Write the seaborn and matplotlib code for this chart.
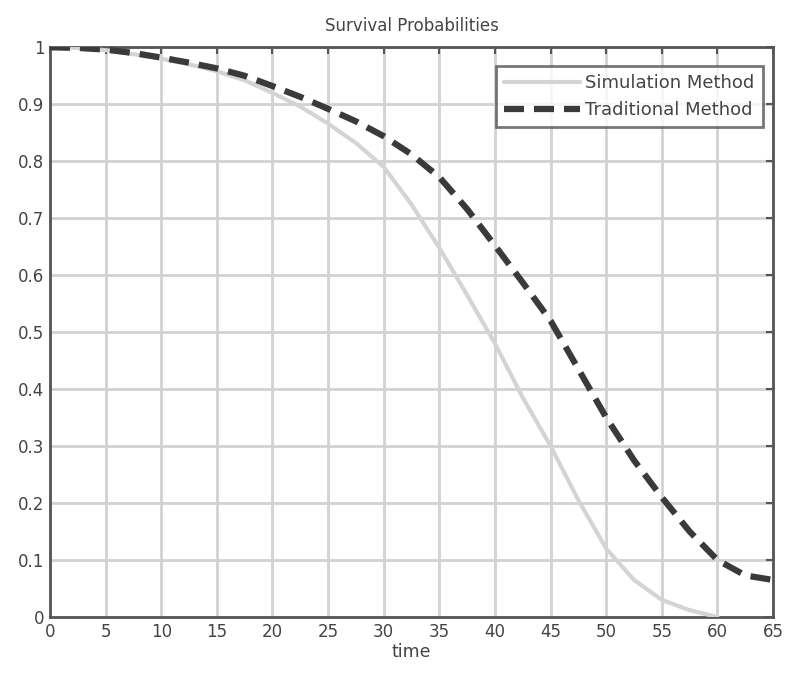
import numpy as np
import pandas as pd
import matplotlib
matplotlib.use("Agg")
import matplotlib.pyplot as plt
import seaborn as sns

time_sim = [0, 2.5, 5, 7.5, 10, 12.5, 15, 17.5, 20, 22.5, 25, 27.5, 30, 32.5,
            35, 37.5, 40, 42.5, 45, 47.5, 50, 52.5, 55, 57.5, 60]
sim_vals = [1.0, 0.999, 0.995, 0.988, 0.98, 0.97, 0.958, 0.942, 0.92, 0.896,
            0.866, 0.832, 0.79, 0.724, 0.648, 0.565, 0.48, 0.385, 0.30, 0.205,
            0.12, 0.065, 0.03, 0.012, 0.0]

time_trad = [0, 2.5, 5, 7.5, 10, 12.5, 15, 17.5, 20, 22.5, 25, 27.5, 30, 32.5,
             35, 37.5, 40, 42.5, 45, 47.5, 50, 52.5, 55, 57.5, 60, 62.5, 65]
trad_vals = [1.0, 0.999, 0.996, 0.99, 0.982, 0.973, 0.963, 0.95, 0.932, 0.913,
             0.892, 0.87, 0.844, 0.812, 0.772, 0.716, 0.652, 0.587, 0.52, 0.435,
             0.35, 0.275, 0.21, 0.15, 0.10, 0.073, 0.065]

labels = ["Simulation Method", "Traditional Method"]
xticks = list(range(0, 70, 5))
yticks = [0, 0.1, 0.2, 0.3, 0.4, 0.5, 0.6, 0.7, 0.8, 0.9, 1]
yticklabels = ["0", "0.1", "0.2", "0.3", "0.4", "0.5", "0.6", "0.7", "0.8", "0.9", "1"]

df_sim = pd.DataFrame({"time": time_sim, "p": sim_vals})
df_trad = pd.DataFrame({"time": time_trad, "p": trad_vals})

sns.set_style("white")
plt.rcParams["font.family"] = ["DejaVu Sans"]

fig = plt.figure(figsize=(7.86, 6.75), dpi=100)
ax = fig.add_axes([0.0636, 0.0859, 0.920, 0.844])

sns.lineplot(data=df_sim, x="time", y="p", ax=ax, color="#d4d4d4",
             linewidth=3, label=labels[0], zorder=3)
sns.lineplot(data=df_trad, x="time", y="p", ax=ax, color="#3a3a3a",
             linewidth=4.5, label=labels[1], zorder=4)
ax.lines[1].set_dashes([3.2, 1.6])

ax.set_xlim(0, 65)
ax.set_ylim(0, 1)
ax.set_xticks(xticks)
ax.set_yticks(yticks)
ax.set_yticklabels(yticklabels)
ax.grid(True, color="#d2d2d2", linewidth=2, linestyle="-")
ax.set_axisbelow(True)
for s in ax.spines.values():
    s.set_visible(True)
    s.set_color("#555555")
    s.set_linewidth(2)
ax.tick_params(direction="in", length=5, width=1.5, color="#555555",
               labelsize=12, labelcolor="#444444", top=True, right=True,
               labeltop=False, labelright=False, pad=4)

ax.set_title("Survival Probabilities", fontsize=12, color="#444444", pad=12)
ax.set_xlabel("time", fontsize=12.5, color="#444444", labelpad=2)
ax.set_ylabel("")

leg = ax.legend(loc="upper right", fontsize=13, frameon=True, fancybox=False,
                edgecolor="#555555", borderpad=0.45, handlelength=4.2,
                handletextpad=0.3, labelspacing=0.5,
                bbox_to_anchor=(0.998, 0.983))
leg.get_frame().set_linewidth(2)
for t in leg.get_texts():
    t.set_color("#444444")

fig.savefig("out.png", dpi=100, facecolor="white")
